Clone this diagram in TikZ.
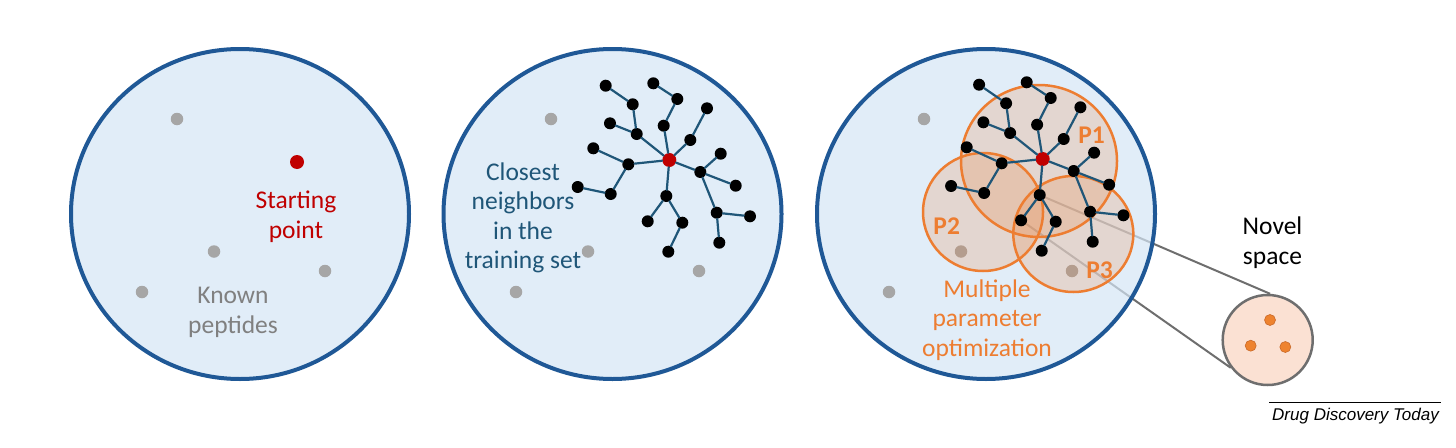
\documentclass[tikz,border=0pt]{standalone}
\usepackage{fontspec}
\setmainfont{Carlito}
\newfontfamily\creditfont{Liberation Sans}
\definecolor{ringblue}{RGB}{31,88,150}
\definecolor{ringfill}{RGB}{212,229,245}
\definecolor{dotgray}{RGB}{166,166,166}
\definecolor{startred}{RGB}{192,0,0}
\definecolor{labgray}{RGB}{128,128,128}
\definecolor{nbrteal}{RGB}{31,86,120}
\definecolor{pzorange}{RGB}{237,125,49}
\definecolor{novfill}{RGB}{251,225,211}
\definecolor{linkgray}{RGB}{110,110,110}
\pgfdeclarelayer{back}
\pgfsetlayers{back,main}
\newcommand{\peptree}[3]{%
	\begin{scope}[shift={(#2,#3)}]
		\node[startpt] (#1r) at (0,0) {};
		\foreach \n/\px/\py in {a1/-32.6/-26,a2/-36.6/-55.7,a3/-63.6/-74.3,a4/-59.3/-36.7,b1/-5.6/-34.3,b2/8/-61,b3/-16/-76.7,c1/21/-20,c2/37.7/-51.7,d1/-41/4.3,d2/-76/-11.7,d3/-58.6/34,d4/-91.6/27,e1/31/12,e2/51.4/-6.3,e3/66.4/25.7,e4/47.4/52.7,e5/80.7/56.3,e6/50/82.7,f1/-3/36,f2/-21.6/61.3,f3/13/62.7,f4/-1/91.7}
			\node[nbr] (#1\n) at (\px,\py) {};
		\foreach \u/\v in {r/a1,a1/a2,a2/a3,a1/a4,r/b1,b1/b2,b2/b3,r/c1,c1/c2,r/d1,d1/d2,d1/d3,d3/d4,r/e1,e1/e2,e1/e3,e1/e4,e4/e5,e4/e6,r/f1,f1/f2,f1/f3,f3/f4}
			\draw[bond] (#1\u) -- (#1\v);
	\end{scope}}
\begin{document}
\begin{tikzpicture}[x=1pt,y=-1pt,line join=round,line cap=round,
	lab/.style={font=\fontsize{25.5}{29.5}\selectfont,align=center,anchor=base,inner sep=0pt},
	ring/.style={draw=ringblue,line width=4pt,fill=ringfill,fill opacity=0.7,draw opacity=1},
	knownpt/.style={circle,fill=dotgray,inner sep=0pt,minimum size=12.5pt},
	startpt/.style={circle,fill=startred,inner sep=0pt,minimum size=14pt},
	nbr/.style={circle,fill=black,inner sep=0pt,minimum size=12pt},
	bond/.style={draw=nbrteal,line width=2.2pt},
	pzone/.style={draw=pzorange,line width=2.5pt,fill=pzorange,fill opacity=0.2,draw opacity=1},
	novpt/.style={circle,fill=pzorange!95!yellow,draw=pzorange!85!black,line width=0.6pt,inner sep=0pt,minimum size=11pt}]
	\useasboundingbox (0,0) rectangle (1456,447);
	\filldraw[ring] (240,214) ellipse [x radius=169pt,y radius=165pt];
	\filldraw[ring] (612.5,214) ellipse [x radius=169pt,y radius=165pt];
	\filldraw[ring] (986,214) ellipse [x radius=169pt,y radius=165pt];
	\foreach \dx [count=\i] in {0,374,747}{
		\node[knownpt] (k\i a) at (177+\dx,119) {};
		\node[knownpt] (k\i b) at (214+\dx,251.5) {};
		\node[knownpt] (k\i c) at (142+\dx,292) {};
		\node[knownpt] (k\i d) at (325+\dx,271) {};
	}
	\node[startpt] (s1) at (297,162) {};
	\node[lab,text=startred] (s1lab) at (296,238) {Starting\\point};
	\node[lab,text=labgray] (k1lab) at (233,333) {Known\\peptides};
	\peptree{t2}{669.3}{160}
	\node[lab,text=nbrteal] (t2lab) at (523,268.5) {Closest\\neighbors\\in the\\training set};
	\filldraw[pzone] (1039,161) ellipse [x radius=78pt,y radius=76pt];
	\filldraw[pzone] (983,212) ellipse [x radius=60pt,y radius=59pt];
	\filldraw[pzone] (1073.3,234) ellipse [x radius=60pt,y radius=58pt];
	\peptree{t3}{1042.7}{159}
	\node[lab,text=pzorange,font=\fontsize{25.5}{29.5}\selectfont\bfseries] (p1) at (1091.5,143.3) {P1};
	\node[lab,text=pzorange,font=\fontsize{25.5}{29.5}\selectfont\bfseries] (p2) at (946.7,234) {P2};
	\node[lab,text=pzorange,font=\fontsize{25.5}{29.5}\selectfont\bfseries] (p3) at (1099.5,278.3) {P3};
	\node[lab,text=pzorange] (mpo) at (987,356) {Multiple\\parameter\\optimization};
	\node[circle,draw=linkgray,line width=2.5pt,fill=novfill,minimum size=90pt,inner sep=0pt] (nov) at (1267.7,340) {};
	\node[novpt] (n1) at (1270,320) {};
	\node[novpt] (n2) at (1250.7,345.7) {};
	\node[novpt] (n3) at (1285.3,347) {};
	\node[lab] (novlab) at (1272.5,264) {Novel\\space};
	\node[anchor=base,inner sep=0pt,font=\creditfont\itshape\fontsize{17}{20}\selectfont] (credit) at (1355.5,420) {Drug Discovery Today};
	\draw[line width=0.9pt,line cap=butt] (1269.3,402.3) -- (1441,402.3);
	\begin{pgfonlayer}{back}
		\draw[linkgray,line width=2pt] (t3f1.center) -- (nov.87);
		\draw[linkgray,line width=2pt] (t3f2.center) -- (nov.217);
	\end{pgfonlayer}
\end{tikzpicture}
\end{document}
